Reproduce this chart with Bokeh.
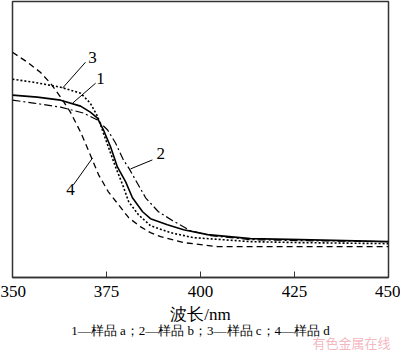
from bokeh.plotting import figure
from bokeh.models import Range1d, ColumnDataSource, Title
from bokeh.core.properties import value
from bokeh.embed import file_html
from bokeh.resources import INLINE

# Wavelength (nm) and absorbance (a.u.)
wl_1 = [350, 356.6, 362.8, 368.1, 370.7, 372.6, 374.2, 376.1, 377.9, 380.1, 381.9, 384.6, 386.7, 391.2, 395.5, 401.9, 413.3, 426.6, 450]
abs_1 = [1.83, 1.81, 1.78, 1.72, 1.66, 1.60, 1.48, 1.31, 1.11, 0.96, 0.80, 0.66, 0.59, 0.53, 0.48, 0.43, 0.39, 0.38, 0.36]

wl_2 = [350, 355.6, 362.8, 368.9, 372.6, 375.3, 377.4, 379.5, 380.9, 382.7, 385.4, 388.8, 392.6, 397.3, 402.7, 413.3, 426.6, 450]
abs_2 = [1.78, 1.75, 1.71, 1.65, 1.58, 1.48, 1.35, 1.18, 1.10, 0.98, 0.80, 0.66, 0.57, 0.47, 0.42, 0.38, 0.37, 0.36]

wl_3 = [350, 355.6, 362.8, 368.1, 370.7, 372.6, 373.9, 375.5, 377.4, 379.3, 380.9, 383.5, 386.7, 392.0, 398.1, 413.3, 426.6, 450]
abs_3 = [1.99, 1.96, 1.91, 1.85, 1.75, 1.62, 1.48, 1.31, 1.11, 0.93, 0.76, 0.63, 0.52, 0.45, 0.40, 0.36, 0.35, 0.34]

wl_4 = [350, 354.0, 357.4, 360.1, 362.8, 365.4, 368.1, 370.7, 372.9, 375.5, 378.2, 380.9, 384.0, 386.7, 389.4, 395.5, 404.5, 450]
abs_4 = [2.26, 2.16, 2.06, 1.95, 1.81, 1.66, 1.46, 1.23, 1.03, 0.86, 0.73, 0.60, 0.51, 0.45, 0.41, 0.35, 0.31, 0.31]

x_ticks = [350, 375, 400, 425, 450]

# curve number labels and their leader lines
label_text = ["3", "1", "2", "4"]
label_x = [371.3, 373.4, 389.4, 365.4]
label_y = [2.21, 2.00, 1.24, 0.88]
leader_x0 = [369.4, 372.1, 387.2, 366.2]
leader_y0 = [2.16, 1.95, 1.18, 0.93]
leader_x1 = [363.3, 366.0, 381.4, 371.3]
leader_y1 = [1.90, 1.75, 1.09, 1.20]

caption = "1—样品 a；2—样品 b；3—样品 c；4—样品 d"
watermark = "有色金属在线"

SERIF = "Liberation Serif"

p = figure(width=400, height=351, output_backend="svg", toolbar_location=None,
           x_range=Range1d(350, 450), y_range=Range1d(0, 2.77),
           y_axis_location=None, min_border_left=12, min_border_right=12,
           min_border_top=1, min_border_bottom=10)
p.grid.visible = False
p.outline_line_color = "#333333"
p.outline_line_width = 1.5
p.background_fill_color = "white"
p.border_fill_color = "white"

ax = p.xaxis[0]
ax.ticker = x_ticks
ax.minor_tick_line_color = None
ax.major_tick_in = 6
ax.major_tick_out = 0
ax.major_tick_line_color = "#333333"
ax.axis_line_color = "#333333"
ax.axis_line_width = 1.5
ax.major_label_text_font = SERIF
ax.major_label_text_font_size = "17px"
ax.major_label_text_color = "black"
ax.major_label_standoff = 8
ax.axis_label = "波长/nm"
ax.axis_label_text_font = SERIF
ax.axis_label_text_font_style = "normal"
ax.axis_label_text_font_size = "17px"
ax.axis_label_text_color = "black"
ax.axis_label_standoff = 5

p.add_layout(Title(text=caption, align="center", text_font=SERIF,
                   text_font_size="13px", text_font_style="normal",
                   text_color="black", standoff=-12), "below")
p.add_layout(Title(text=watermark, align="right", text_font="Noto Sans CJK SC",
                   text_font_size="13px", text_font_style="normal",
                   text_color="#f2aab5", text_alpha=0.85, standoff=-1,
                   offset=-2), "below")

p.line(wl_1, abs_1, line_color="black", line_width=1.6)
p.line(wl_2, abs_2, line_color="black", line_width=1.2, line_dash="8 3 2 3")
p.line(wl_3, abs_3, line_color="black", line_width=1.6, line_dash="2 2")
p.line(wl_4, abs_4, line_color="black", line_width=1.3, line_dash="6 4")

p.segment(x0=leader_x0, y0=leader_y0, x1=leader_x1, y1=leader_y1,
          line_color="black", line_width=1)
src = ColumnDataSource(dict(x=label_x, y=label_y, t=label_text))
p.text(x="x", y="y", text="t", source=src, text_font=value(SERIF),
       text_font_size="17px", text_align="center", text_baseline="middle",
       text_color="black")

open("out.html", "w").write(file_html(p, INLINE))
